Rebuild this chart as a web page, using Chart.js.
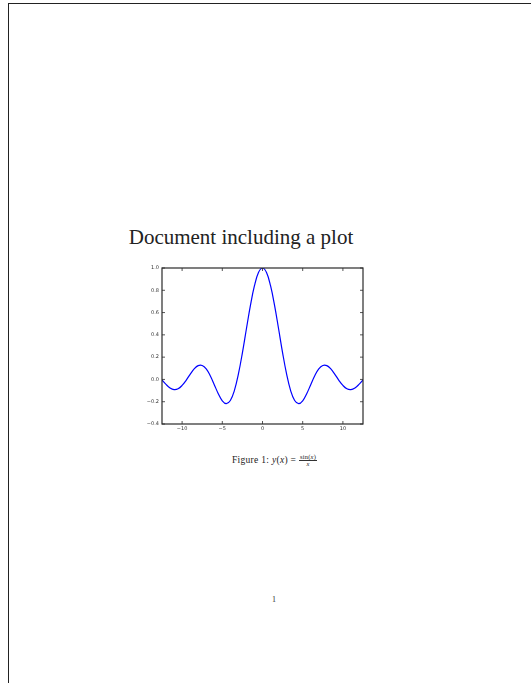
<!DOCTYPE html>
<html>
<head>
<meta charset="utf-8">
<script src="https://cdn.jsdelivr.net/npm/chart.js@4.4.1/dist/chart.umd.min.js"></script>
<style>
  html, body { margin: 0; padding: 0; background: #fff; }
  body { width: 531px; height: 683px; position: relative; overflow: hidden; }
  .page { position: absolute; left: 8px; top: 3px; right: -4px; bottom: -4px;
          border-top: 1.5px solid #222; border-left: 1.5px solid #222; }
  .title { position: absolute; left: 0; width: 482px; top: 225px; text-align: center;
           font-family: "Liberation Serif", "DejaVu Serif", serif; font-size: 21px; color: #222; }
  .plot { position: absolute; left: 130px; top: 262px; width: 239px; height: 176px; }
  .caption { position: absolute; left: 232px; top: 454px; font-family: "Liberation Serif", serif;
             font-size: 9.5px; letter-spacing: 0.3px; color: #222; white-space: nowrap; }
  .caption i { font-style: italic; }
  .frac { display: inline-block; vertical-align: middle; text-align: center; font-size: 6.5px; line-height: 6px; letter-spacing: 0.2px; }
  .frac span { display: block; }
  .frac .num { border-bottom: 0.6px solid #333; padding: 0 1px; }
  .pageno { position: absolute; left: 272px; top: 595px; font-family: "Liberation Serif", serif;
            font-size: 8px; color: #333; }
</style>
</head>
<body>
<div class="page"></div>
<div class="title">Document including a plot</div>
<div class="plot"><canvas id="myChart" width="239" height="176"></canvas></div>
<div class="caption">Figure 1: <i>y</i>(<i>x</i>) = <span class="frac"><span class="num">sin(<i>x</i>)</span><span><i>x</i></span></span></div>
<div class="pageno">1</div>
<script>
// y = sin(x)/x sampled every half unit
const xs = [-12.5, -12, -11.5, -11, -10.5, -10, -9.5, -9, -8.5, -8, -7.5, -7, -6.5, -6, -5.5, -5, -4.5, -4, -3.5, -3, -2.5, -2, -1.5, -1, -0.5,
            0, 0.5, 1, 1.5, 2, 2.5, 3, 3.5, 4, 4.5, 5, 5.5, 6, 6.5, 7, 7.5, 8, 8.5, 9, 9.5, 10, 10.5, 11, 11.5, 12, 12.5];
const ys = [-0.005, -0.045, -0.076, -0.091, -0.084, -0.054, -0.008, 0.046, 0.094, 0.124, 0.125, 0.094, 0.033, -0.047, -0.128, -0.192, -0.217, -0.189, -0.100, 0.047, 0.239, 0.455, 0.665, 0.841, 0.959,
            1.0, 0.959, 0.841, 0.665, 0.455, 0.239, 0.047, -0.100, -0.189, -0.217, -0.192, -0.128, -0.047, 0.033, 0.094, 0.125, 0.124, 0.094, 0.046, -0.008, -0.054, -0.084, -0.091, -0.076, -0.045, -0.005];
const xTicks = [-10, -5, 0, 5, 10];
const yTicks = [-0.4, -0.2, 0.0, 0.2, 0.4, 0.6, 0.8, 1.0];

const minus = s => String(s).replace('-', '\u2212');

// box around the axes with short inward ticks on every side
const frame = {
  id: 'frame',
  afterDatasetsDraw(chart) {
    const { ctx, chartArea: a, scales } = chart;
    ctx.save();
    ctx.strokeStyle = '#2a2a2a';
    ctx.lineWidth = 1.2;
    ctx.strokeRect(a.left, a.top, a.right - a.left, a.bottom - a.top);
    ctx.lineWidth = 0.8;
    ctx.beginPath();
    xTicks.forEach(v => {
      const px = scales.x.getPixelForValue(v);
      ctx.moveTo(px, a.bottom); ctx.lineTo(px, a.bottom - 3);
      ctx.moveTo(px, a.top); ctx.lineTo(px, a.top + 3);
    });
    yTicks.forEach(v => {
      const py = scales.y.getPixelForValue(v);
      ctx.moveTo(a.left, py); ctx.lineTo(a.left + 3, py);
      ctx.moveTo(a.right, py); ctx.lineTo(a.right - 3, py);
    });
    ctx.stroke();
    ctx.restore();
  }
};

const ctx = document.getElementById('myChart').getContext('2d');
new Chart(ctx, {
  type: 'line',
  data: {
    datasets: [{
      data: xs.map((x, i) => ({ x: x, y: ys[i] })),
      borderColor: '#0000ff',
      borderWidth: 1.2,
      pointRadius: 0,
      tension: 0.4,
      fill: false
    }]
  },
  options: {
    responsive: false,
    animation: false,
    layout: { padding: { top: 6, right: 6, left: 0, bottom: 0 } },
    plugins: { legend: { display: false }, tooltip: { enabled: false } },
    scales: {
      x: {
        type: 'linear', min: -12.5, max: 12.5,
        grid: { display: false, drawTicks: false }, border: { display: false },
        afterBuildTicks: s => { s.ticks = xTicks.map(v => ({ value: v })); },
        afterFit: s => { s.height = 14; },
        ticks: { color: '#333', font: { family: 'DejaVu Sans', size: 5 }, padding: 2,
                 maxRotation: 0, callback: v => minus(v) }
      },
      y: {
        min: -0.4, max: 1.0,
        grid: { display: false, drawTicks: false }, border: { display: false },
        afterBuildTicks: s => { s.ticks = yTicks.map(v => ({ value: v })); },
        afterFit: s => { s.width = 32; },
        ticks: { color: '#333', font: { family: 'DejaVu Sans', size: 5 }, padding: 3,
                 callback: v => minus(Number(v).toFixed(1)) }
      }
    }
  },
  plugins: [frame]
});
</script>
</body>
</html>
